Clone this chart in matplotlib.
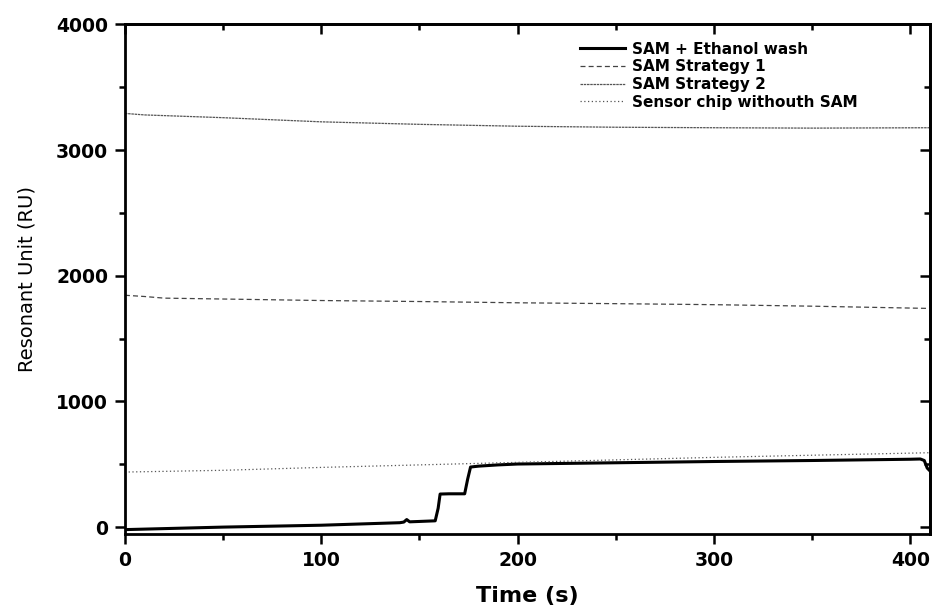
import numpy as np
import matplotlib
matplotlib.use("Agg")
import matplotlib.pyplot as plt
from matplotlib.ticker import MultipleLocator

# SAM + Ethanol wash
t_eth = [0, 20, 50, 100, 130, 140, 142, 143.5, 145, 150, 158, 159.5, 160.5, 165, 173, 174.5, 176, 180, 190, 200, 250, 300, 350, 400, 405, 407, 408.5, 410]
ru_eth = [-20, -12, 0, 15, 30, 35, 40, 60, 42, 45, 50, 150, 263, 265, 265, 380, 478, 485, 495, 502, 512, 522, 530, 540, 542, 530, 470, 446]

# SAM Strategy 1
t_s1 = [0, 10, 20, 50, 100, 150, 200, 250, 300, 350, 410]
ru_s1 = [1845, 1835, 1822, 1815, 1803, 1795, 1785, 1778, 1770, 1758, 1740]

# SAM Strategy 2
t_s2 = [0, 10, 50, 100, 150, 200, 250, 300, 350, 410]
ru_s2 = [3292, 3280, 3258, 3225, 3205, 3190, 3182, 3178, 3175, 3178]

# Sensor chip withouth SAM
t_nos = [0, 50, 100, 150, 200, 250, 300, 350, 410]
ru_nos = [438, 452, 475, 495, 515, 535, 555, 572, 592]

plt.rcParams['font.family'] = ['DejaVu Sans']

fig = plt.figure(figsize=(9.32, 6.11), dpi=100)
ax = fig.add_axes([0.134, 0.126, 0.864, 0.834])

ax.plot(t_eth, ru_eth, color='black', lw=2.2, ls='-', label='SAM + Ethanol wash')
ax.plot(t_s1, ru_s1, color='#444444', lw=0.9, ls=(0, (4, 2.5)), label='SAM Strategy 1')
ax.plot(t_s2, ru_s2, color='#555555', lw=0.9, ls=(0, (2, 0.6)), label='SAM Strategy 2')
ax.plot(t_nos, ru_nos, color='#555555', lw=0.9, ls=(0, (1, 2)), label='Sensor chip withouth SAM')

ax.set_xlim(0, 410)
ax.set_ylim(-55, 4000)
ax.xaxis.set_major_locator(MultipleLocator(100))
ax.xaxis.set_minor_locator(MultipleLocator(50))
ax.yaxis.set_major_locator(MultipleLocator(1000))
ax.yaxis.set_minor_locator(MultipleLocator(500))

for s in ax.spines.values():
    s.set_linewidth(2.0)

ax.tick_params(which='both', direction='out', width=1.8, bottom=True, left=True, top=False, right=False)
ax.tick_params(which='major', length=7)
ax.tick_params(which='minor', length=4)
ax.tick_params(axis='both', labelsize=13.5, pad=5)
for lab in ax.get_xticklabels() + ax.get_yticklabels():
    lab.set_fontweight('bold')

# inward ticks on top and right
secx = ax.secondary_xaxis('top')
secx.xaxis.set_major_locator(MultipleLocator(100))
secx.xaxis.set_minor_locator(MultipleLocator(50))
secx.tick_params(which='both', direction='in', width=1.8, labeltop=False)
secx.tick_params(which='major', length=7)
secx.tick_params(which='minor', length=4)
secx.spines['top'].set_linewidth(2.0)
secy = ax.secondary_yaxis('right')
secy.yaxis.set_major_locator(MultipleLocator(1000))
secy.yaxis.set_minor_locator(MultipleLocator(500))
secy.tick_params(which='both', direction='in', width=1.8, labelright=False)
secy.tick_params(which='major', length=7)
secy.tick_params(which='minor', length=4)
secy.spines['right'].set_linewidth(2.0)

ax.set_xlabel('Time (s)', fontsize=16, fontweight='bold', labelpad=12)
ax.set_ylabel('Resonant Unit (RU)', fontsize=14, labelpad=14)

leg = ax.legend(loc='upper right', frameon=False, fontsize=11, handlelength=3.0,
                handletextpad=0.4, labelspacing=0.17, borderaxespad=0,
                bbox_to_anchor=(0.917, 0.978))
for txt in leg.get_texts():
    txt.set_fontweight('bold')

fig.savefig('out.png', dpi=100, facecolor='white')
